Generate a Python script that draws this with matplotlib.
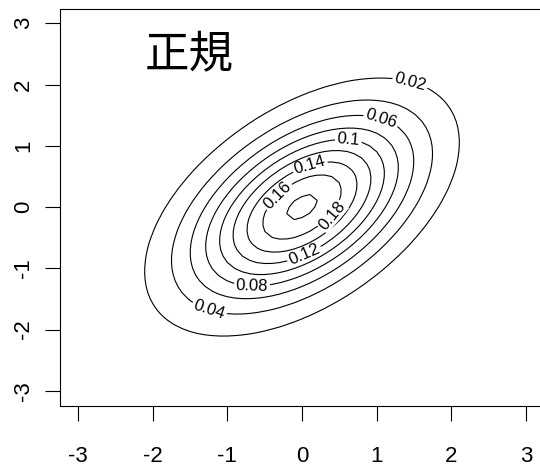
import numpy as np
import matplotlib.pyplot as plt

# bivariate normal density, standard margins
rho = 0.5
grid = np.linspace(-3, 3, 61)
levels = [0.02, 0.04, 0.06, 0.08, 0.10, 0.12, 0.14, 0.16, 0.18]
# rough spot for each contour's label (data coords)
label_spots = [(1.51, 2.13), (-1.30, -1.76), (1.11, 1.51), (-0.70, -1.35),
               (0.64, 1.13), (0.03, -0.70), (0.11, 0.72), (-0.43, 0.25)]
# the innermost ring is too small to carry its label, so it sits beside it
inner_spot = (0.40, -0.14)
inner_angle = 50
ticks = [-3, -2, -1, 0, 1, 2, 3]
title = "正規"

X, Y = np.meshgrid(grid, grid)
norm = 1 / (2 * np.pi * np.sqrt(1 - rho**2))
Z = norm * np.exp(-(X**2 - 2 * rho * X * Y + Y**2) / (2 * (1 - rho**2)))


def on_level(lev, spot):
    # push the spot along its ray onto the ellipse of this level
    u = np.asarray(spot) / np.hypot(*spot)
    qu = (u[0]**2 - 2 * rho * u[0] * u[1] + u[1]**2) / (1 - rho**2)
    qc = 2 * np.log(norm / lev)
    return tuple(u * np.sqrt(qc / qu))


plt.rcParams["font.family"] = ["Liberation Sans", "DejaVu Sans"]

fig = plt.figure(figsize=(5.4, 4.65), dpi=100)
ax = fig.add_axes([60 / 540, 1 - 405.5 / 465, 484 / 540, (405.5 - 8.6) / 465])
ax.set_xlim(-3.24, 3.24)
ax.set_ylim(-3.24, 3.24)

cs = ax.contour(X, Y, Z, levels=levels, colors="black", linewidths=0.8)
ax.clabel(cs, manual=[on_level(l, s) for l, s in zip(levels, label_spots)],
          fmt="%g", fontsize=12, inline=True, inline_spacing=2)
ax.text(*inner_spot, "%g" % levels[-1], fontsize=12, rotation=inner_angle,
        ha="center", va="center", rotation_mode="anchor", zorder=5,
        bbox=dict(boxstyle="square,pad=0.05", fc="white", ec="none"))

ax.text(-1.51, 2.48, title, fontsize=32, ha="center", va="center",
        family=["Noto Sans CJK JP", "DejaVu Sans"])

for sp in ax.spines.values():
    sp.set_linewidth(0.8)
ax.set_xticks(ticks)
ax.set_yticks(ticks)
ax.set_xticklabels([str(t) for t in ticks])
ax.set_yticklabels([str(t) for t in ticks], rotation=90, va="center")
ax.tick_params(axis="both", length=10.8, width=0.8, labelsize=16)
ax.tick_params(axis="x", pad=18)
ax.tick_params(axis="y", pad=8)

fig.savefig("out.png", dpi=100)
